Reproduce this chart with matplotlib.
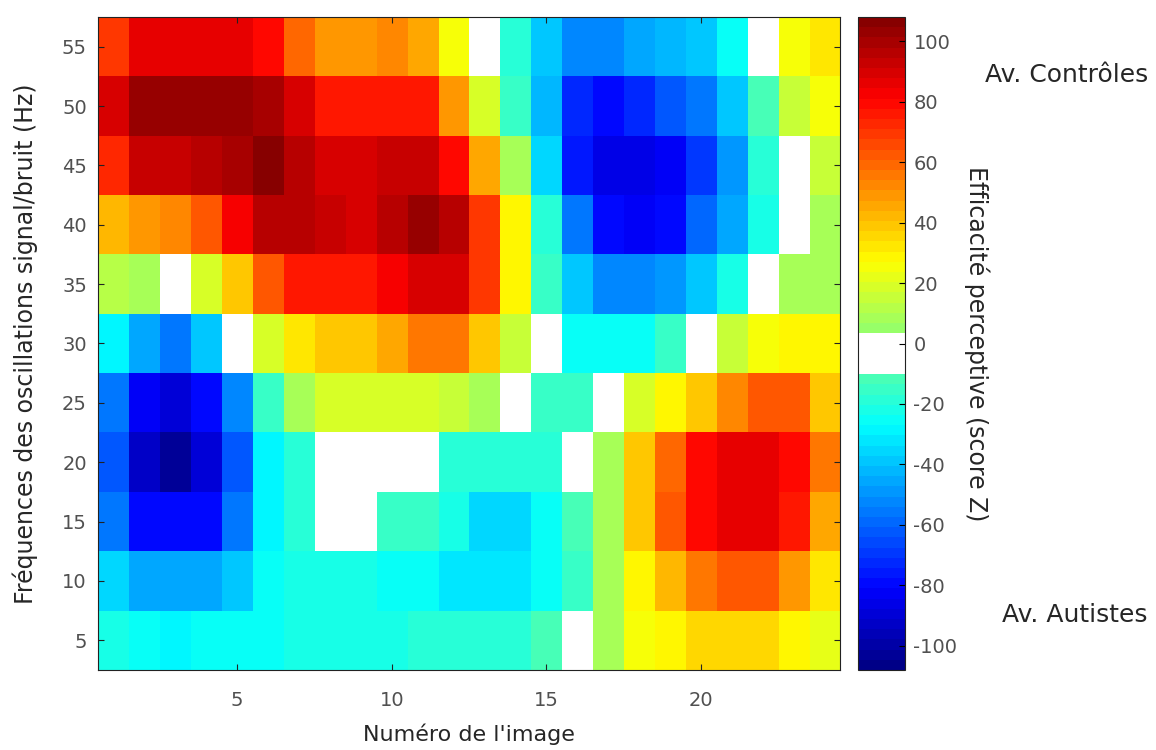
import numpy as np
import matplotlib
matplotlib.use("Agg")
import matplotlib.pyplot as plt
from matplotlib.colors import ListedColormap

plt.rcParams['font.family'] = ['DejaVu Sans']
plt.rcParams['axes.unicode_minus'] = False

# Data: perceptual efficiency (Z score), rows from 55 Hz (top) down to 5 Hz
freqs = [55, 50, 45, 40, 35, 30, 25, 20, 15, 10, 5]
images = list(range(1, 25))

r55 = [70, 85, 85, 85, 85, 78, 60, 50, 48, 52, 45, 25, 0, -20, -38, -52, -54, -45, -42, -40, -25, 0, 25, 32]
r50 = [88, 102, 103, 103, 102, 100, 90, 76, 75, 77, 75, 50, 18, -14, -43, -74, -78, -73, -62, -56, -40, -12, 15, 26]
r45 = [73, 93, 93, 96, 100, 105, 97, 90, 90, 94, 93, 78, 45, 8, -35, -76, -86, -86, -83, -70, -50, -20, 0, 16]
r40 = [42, 50, 52, 63, 82, 96, 96, 93, 90, 97, 103, 96, 70, 27, -17, -56, -78, -82, -80, -60, -45, -23, 0, 8]
r35 = [12, 10, 0, 20, 38, 63, 76, 76, 76, 82, 88, 88, 70, 30, -15, -40, -53, -53, -50, -38, -23, 0, 8, 8]
r30 = [-28, -47, -56, -38, 0, 20, 32, 38, 40, 45, 56, 56, 38, 16, 0, -25, -25, -25, -14, 0, 15, 26, 30, 28]
r25 = [-56, -84, -88, -80, -52, -15, 8, 18, 20, 20, 20, 16, 8, 0, -14, -14, 0, 20, 27, 40, 52, 62, 62, 40]
r20 = [-62, -92, -102, -90, -62, -28, -18, 0, 0, 0, 0, -20, -20, -20, -18, 0, 8, 38, 60, 78, 85, 85, 78, 55]
r15 = [-56, -80, -81, -78, -56, -30, -18, 0, 0, -15, -15, -23, -35, -35, -27, -13, 8, 38, 62, 80, 85, 85, 76, 45]
r10 = [-35, -47, -47, -45, -38, -27, -21, -21, -21, -26, -26, -32, -32, -32, -26, -14, 8, 28, 42, 57, 63, 62, 50, 32]
r5 = [-21, -26, -29, -26, -24, -24, -22, -22, -22, -22, -20, -20, -17, -17, -12, 0, 8, 26, 28, 34, 36, 34, 28, 22]

scores = np.array([r55, r50, r45, r40, r35, r30, r25, r20, r15, r10, r5])
cbar_ticks = [100, 80, 60, 40, 20, 0, -20, -40, -60, -80, -100]

# MATLAB-style jet(64) with a white band around zero
vmin, vmax = -108, 108
x = (np.arange(64) + 0.5) / 64
jet = np.column_stack([np.clip(1.5 - np.abs(4 * x - 3), 0, 1),
                       np.clip(1.5 - np.abs(4 * x - 2), 0, 1),
                       np.clip(1.5 - np.abs(4 * x - 1), 0, 1),
                       np.ones(64)])
jet[29:33] = [1, 1, 1, 1]
cmap = ListedColormap(jet)

fig = plt.figure(figsize=(11.56, 7.5), dpi=100)
ax = fig.add_axes([0.0848, 0.1067, 0.642, 0.8706])
cax = fig.add_axes([0.742, 0.1067, 0.041, 0.8706])

im = ax.imshow(scores, cmap=cmap, vmin=vmin, vmax=vmax, aspect='auto',
               origin='upper', interpolation='nearest',
               extent=[images[0] - 0.5, images[-1] + 0.5, freqs[-1] - 2.5, freqs[0] + 2.5])

ax.set_xticks([5, 10, 15, 20])
ax.set_yticks(freqs)
ax.tick_params(direction='in', top=True, right=True, length=4, labelsize=14,
               labelcolor='#505050', color='#222222')
ax.tick_params(axis='x', pad=15)
ax.tick_params(axis='y', pad=8)
ax.set_xlabel("Numéro de l'image", fontsize=16, color='#262626', labelpad=10)
ax.set_ylabel("Fréquences des oscillations signal/bruit (Hz)", fontsize=17,
              color='#262626', labelpad=17)
for s in ax.spines.values():
    s.set_color('#222222')

cb = fig.colorbar(im, cax=cax, ticks=cbar_ticks)
cb.ax.tick_params(direction='in', length=4, labelsize=14, labelcolor='#505050', pad=6)
cb.outline.set_edgecolor('#222222')
cb.set_label("Efficacité perceptive (score Z)", rotation=-90, fontsize=17,
             color='#262626', labelpad=23)

fig.text(0.923, 0.90, "Av. Contrôles", fontsize=18, color='#262626', ha='center', va='center')
fig.text(0.930, 0.18, "Av. Autistes", fontsize=18, color='#262626', ha='center', va='center')

fig.savefig("out.png", dpi=100)
